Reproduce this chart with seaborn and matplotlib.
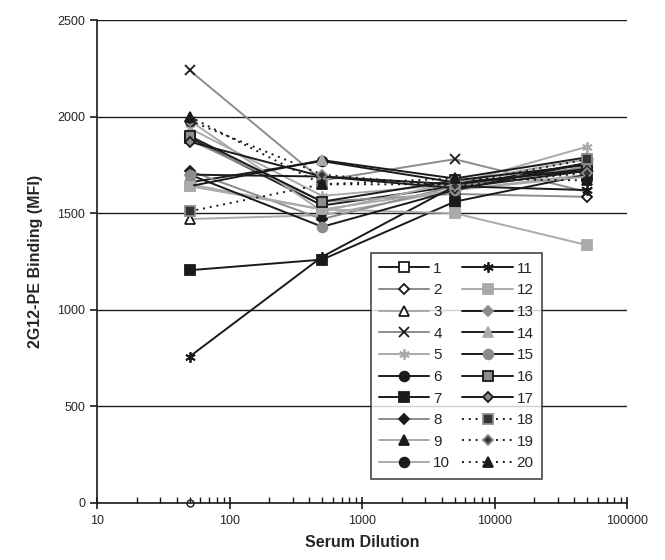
import matplotlib
matplotlib.use("Agg")
import matplotlib.pyplot as plt
import matplotlib.ticker as mticker
import pandas as pd
import seaborn as sns

diluciones = [50, 500, 5000, 50000]
muestras = [str(i) for i in range(1, 21)]

valores = {
    "1": [1890, 1540, 1640, 1760],
    "2": [1880, 1560, 1600, 1585],
    "3": [1470, 1490, 1620, 1700],
    "4": [2240, 1670, 1780, 1610],
    "5": [1940, 1590, 1650, 1845],
    "6": [1660, 1770, 1660, 1720],
    "7": [1205, 1260, 1560, 1700],
    "8": [1720, 1470, 1640, 1740],
    "9": [1650, 1520, 1620, 1690],
    "10": [1980, 1510, 1660, 1780],
    "11": [758, 1275, 1640, 1620],
    "12": [1640, 1520, 1500, 1335],
    "13": [1700, 1690, 1650, 1730],
    "14": [1640, 1775, 1680, 1790],
    "15": [1700, 1430, 1620, 1760],
    "16": [1900, 1560, 1670, 1750],
    "17": [1870, 1690, 1630, 1720],
    "18": [1510, 1650, 1650, 1780],
    "19": [1980, 1700, 1640, 1710],
    "20": [2000, 1650, 1680, 1670],
}

# punto suelto en el eje x
punto_x = [50]
punto_y = [0]

NEGRO = "#1a1a1a"
GRIS = "#8c8c8c"
GRIS_CLARO = "#aaaaaa"
ASTER = (6, 2, 0)

# (color linea, marcador, relleno, borde, estilo)
estilos = {
    "1": (NEGRO, "s", "white", NEGRO, "-"),
    "2": (GRIS, "D", "white", NEGRO, "-"),
    "3": (GRIS_CLARO, "^", "white", NEGRO, "-"),
    "4": (GRIS, "x", NEGRO, NEGRO, "-"),
    "5": (GRIS_CLARO, ASTER, GRIS_CLARO, GRIS_CLARO, "-"),
    "6": (NEGRO, "o", NEGRO, NEGRO, "-"),
    "7": (NEGRO, "s", NEGRO, NEGRO, "-"),
    "8": (GRIS, "D", NEGRO, NEGRO, "-"),
    "9": (GRIS_CLARO, "^", NEGRO, NEGRO, "-"),
    "10": (GRIS_CLARO, "o", NEGRO, NEGRO, "-"),
    "11": (NEGRO, ASTER, NEGRO, NEGRO, "-"),
    "12": (GRIS_CLARO, "s", GRIS_CLARO, GRIS_CLARO, "-"),
    "13": (NEGRO, "D", GRIS, GRIS, "-"),
    "14": (NEGRO, "^", GRIS_CLARO, GRIS_CLARO, "-"),
    "15": (NEGRO, "o", GRIS, GRIS, "-"),
    "16": (NEGRO, "s", GRIS, NEGRO, "-"),
    "17": (NEGRO, "D", GRIS, NEGRO, "-"),
    "18": (NEGRO, "s", "#333333", GRIS, ":"),
    "19": (NEGRO, "D", "#333333", GRIS, ":"),
    "20": (NEGRO, "^", NEGRO, NEGRO, ":"),
}
tamanos = {"s": 6.5, "D": 5, "^": 6.5, "o": 7, "x": 7, ASTER: 7.5}

sns.set_theme(style="white")
plt.rcParams["font.family"] = ["Liberation Sans", "DejaVu Sans"]

filas = []
for m in muestras:
    for x, y in zip(diluciones, valores[m]):
        filas.append({"muestra": m, "dilucion": x, "mfi": y})
df = pd.DataFrame(filas)

fig, ax = plt.subplots(figsize=(6.65, 5.6), dpi=100)
fig.subplots_adjust(left=0.146, right=0.943, bottom=0.102, top=0.964)

for m in muestras:
    color, marcador, relleno, borde, estilo = estilos[m]
    sub = df[df["muestra"] == m]
    extra = {"dashes": (1, 2.5)} if estilo == ":" else {"linestyle": "-"}
    sns.lineplot(
        data=sub, x="dilucion", y="mfi", ax=ax,
        color=color, linewidth=1.4,
        marker=marcador, markersize=tamanos[marcador],
        markerfacecolor=relleno, markeredgecolor=borde,
        markeredgewidth=1.3, label=m, errorbar=None, **extra,
    )

ax.plot(punto_x, punto_y, marker="o", markersize=5, markerfacecolor="none",
        markeredgecolor=NEGRO, markeredgewidth=1, linestyle="none",
        clip_on=False, zorder=5)

ax.set_xscale("log")
ax.set_xlim(10, 100000)
ax.set_ylim(0, 2500)
ax.set_yticks(range(0, 2501, 500))
ax.xaxis.set_major_formatter(mticker.FuncFormatter(lambda v, p: f"{int(v)}"))
ax.xaxis.set_minor_locator(mticker.LogLocator(base=10, subs=range(2, 10)))
ax.xaxis.set_minor_formatter(mticker.NullFormatter())

ax.yaxis.grid(True, color=NEGRO, linewidth=1)
ax.xaxis.grid(False)
ax.set_axisbelow(True)

for lado in ("top", "right"):
    ax.spines[lado].set_visible(False)
for lado in ("left", "bottom"):
    ax.spines[lado].set_color(NEGRO)
    ax.spines[lado].set_linewidth(1.2)

ax.tick_params(axis="x", which="major", direction="inout", length=9,
               width=1.2, color=NEGRO, labelsize=9, pad=4, bottom=True)
ax.tick_params(axis="x", which="minor", direction="in", length=4,
               width=1, color=NEGRO, bottom=True)
ax.tick_params(axis="y", direction="out", length=5, width=1.2,
               color=NEGRO, labelsize=9, left=True)

ax.set_xlabel("Serum Dilution", fontsize=11.5, fontweight="bold", labelpad=6)
ax.set_ylabel("2G12-PE Binding (MFI)", fontsize=11.5, fontweight="bold",
              labelpad=10)

leg = ax.legend(ncol=2, loc="lower right", bbox_to_anchor=(0.854, 0.034),
                frameon=True, fancybox=False, edgecolor=NEGRO,
                handlelength=3.3, fontsize=11, labelspacing=0.5,
                columnspacing=0.8, handletextpad=0.25, borderpad=0.55)
leg.get_frame().set_linewidth(1.2)

plt.savefig("out.png", dpi=100)
